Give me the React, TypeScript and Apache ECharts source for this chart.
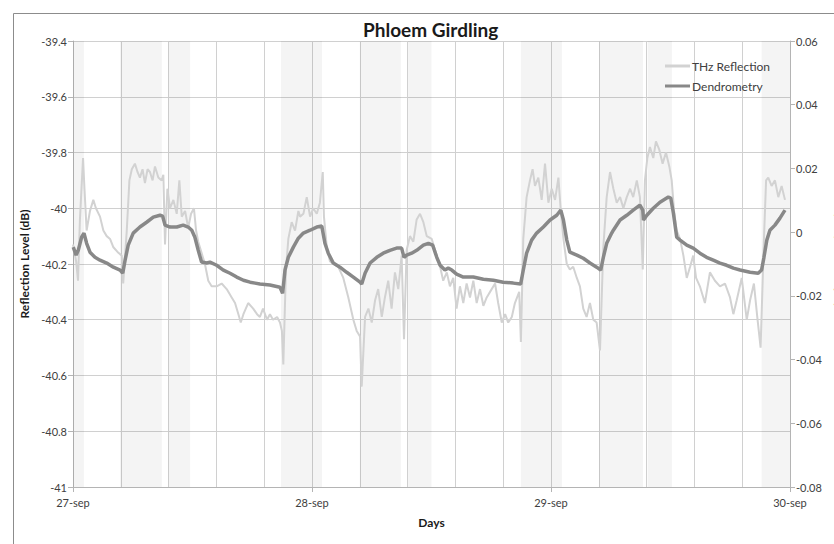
import React, { useEffect, useRef } from "react";
import * as echarts from "echarts";

const dayLabels = ["27-sep", "28-sep", "29-sep", "30-sep"];

const bandStart = [0, 0.197, 0.4, 0.87, 1.2, 1.402, 1.874, 2.201, 2.404, 2.881];
const bandEnd = [0.046, 0.372, 0.49, 1.042, 1.372, 1.5, 2.046, 2.385, 2.506, 3.0];

const thzTime = [
  0, 0.013, 0.021, 0.029, 0.042, 0.048, 0.057, 0.071, 0.085, 0.096,
  0.113, 0.127, 0.141, 0.155, 0.169, 0.190, 0.204, 0.210, 0.225, 0.236,
  0.246, 0.259, 0.270, 0.280, 0.291, 0.301, 0.312, 0.322, 0.333, 0.343,
  0.357, 0.371, 0.378, 0.385, 0.395, 0.406, 0.420, 0.434, 0.445, 0.455,
  0.469, 0.482, 0.494, 0.506, 0.515, 0.524, 0.538, 0.552, 0.566, 0.580,
  0.601, 0.622, 0.643, 0.664, 0.678, 0.692, 0.702, 0.713, 0.733, 0.754,
  0.770, 0.782, 0.795, 0.812, 0.824, 0.837, 0.854, 0.866, 0.874, 0.880,
  0.891, 0.901, 0.915, 0.929, 0.943, 0.950, 0.964, 0.978, 0.992, 1.005,
  1.020, 1.033, 1.045, 1.050, 1.062, 1.075, 1.089, 1.110, 1.131, 1.152,
  1.173, 1.187, 1.201, 1.208, 1.222, 1.236, 1.250, 1.264, 1.277, 1.292,
  1.305, 1.319, 1.333, 1.347, 1.361, 1.375, 1.385, 1.396, 1.410, 1.424,
  1.438, 1.452, 1.466, 1.480, 1.501, 1.522, 1.536, 1.549, 1.564, 1.577,
  1.591, 1.605, 1.619, 1.633, 1.647, 1.661, 1.675, 1.689, 1.703, 1.717,
  1.731, 1.745, 1.766, 1.779, 1.794, 1.808, 1.821, 1.836, 1.849, 1.867,
  1.874, 1.884, 1.898, 1.912, 1.923, 1.933, 1.947, 1.961, 1.975, 1.989,
  2.003, 2.017, 2.031, 2.041, 2.052, 2.066, 2.079, 2.093, 2.108, 2.121,
  2.135, 2.149, 2.163, 2.177, 2.191, 2.205, 2.219, 2.233, 2.247, 2.261,
  2.275, 2.289, 2.303, 2.317, 2.331, 2.344, 2.359, 2.372, 2.384, 2.393,
  2.403, 2.414, 2.428, 2.439, 2.453, 2.467, 2.481, 2.495, 2.505, 2.515,
  2.526, 2.540, 2.554, 2.568, 2.582, 2.595, 2.607, 2.623, 2.644, 2.665,
  2.686, 2.707, 2.728, 2.749, 2.763, 2.777, 2.798, 2.819, 2.833, 2.849,
  2.863, 2.877, 2.891, 2.900, 2.909, 2.923, 2.937, 2.951, 2.965, 2.979,
];

const thzValue = [
  -40.13, -40.19, -40.26, -40.04, -39.82, -39.93, -40.08, -40.01, -39.97, -40.0,
  -40.03, -40.08, -40.1, -40.11, -40.14, -40.16, -40.17, -40.27, -40.08, -39.9,
  -39.86, -39.84, -39.87, -39.89, -39.86, -39.91, -39.86, -39.87, -39.9, -39.85,
  -39.89, -39.9, -39.88, -40.13, -39.93, -40.0, -39.97, -40.02, -39.9, -40.03,
  -40.01, -40.07, -40.02, -40.0, -40.08, -40.12, -40.16, -40.2, -40.26, -40.28,
  -40.28, -40.27, -40.29, -40.32, -40.34, -40.38, -40.41, -40.38, -40.34, -40.36,
  -40.38, -40.39, -40.36, -40.4, -40.38, -40.4, -40.39, -40.41, -40.44, -40.56,
  -40.22, -40.11, -40.05, -40.08, -40.01, -40.03, -40.02, -39.96, -40.03, -40.0,
  -40.02, -39.98, -39.87, -40.03, -40.14, -40.19, -40.2, -40.21, -40.25, -40.32,
  -40.4, -40.44, -40.46, -40.64, -40.39, -40.36, -40.41, -40.33, -40.29, -40.39,
  -40.32, -40.26, -40.36, -40.23, -40.29, -40.17, -40.47, -40.15, -40.1, -40.12,
  -40.04, -40.02, -40.05, -40.1, -40.11, -40.17, -40.21, -40.26, -40.23, -40.28,
  -40.25, -40.36, -40.28, -40.34, -40.27, -40.32, -40.26, -40.34, -40.29, -40.35,
  -40.32, -40.3, -40.27, -40.34, -40.41, -40.38, -40.41, -40.39, -40.34, -40.3,
  -40.48, -40.11, -39.96, -39.9, -39.86, -39.92, -39.89, -39.97, -39.84, -39.98,
  -39.93, -39.97, -39.89, -40.01, -40.11, -40.2, -40.22, -40.21, -40.25, -40.28,
  -40.36, -40.39, -40.34, -40.4, -40.41, -40.51, -40.14, -39.96, -39.87, -39.93,
  -39.98, -39.96, -40.0, -39.96, -39.93, -39.96, -39.9, -39.96, -40.22, -39.9,
  -39.82, -39.78, -39.82, -39.76, -39.79, -39.84, -39.8, -39.85, -39.9, -40.01,
  -40.08, -40.11, -40.17, -40.25, -40.21, -40.17, -40.25, -40.28, -40.34, -40.23,
  -40.26, -40.28, -40.27, -40.32, -40.38, -40.33, -40.25, -40.4, -40.33, -40.27,
  -40.39, -40.5, -40.11, -39.9, -39.89, -39.92, -39.9, -39.96, -39.92, -39.97,
];

const dendroTime = [
  0.001, 0.013, 0.022, 0.036, 0.046, 0.057, 0.071, 0.092, 0.113, 0.141,
  0.169, 0.197, 0.208, 0.218, 0.231, 0.252, 0.280, 0.308, 0.336, 0.364,
  0.375, 0.385, 0.406, 0.434, 0.461, 0.482, 0.497, 0.510, 0.524, 0.538,
  0.559, 0.573, 0.601, 0.629, 0.657, 0.685, 0.713, 0.741, 0.762, 0.782,
  0.824, 0.866, 0.877, 0.887, 0.901, 0.922, 0.943, 0.964, 0.992, 1.020,
  1.041, 1.054, 1.068, 1.089, 1.117, 1.145, 1.173, 1.201, 1.208, 1.222,
  1.243, 1.271, 1.298, 1.326, 1.354, 1.375, 1.385, 1.396, 1.417, 1.438,
  1.466, 1.487, 1.505, 1.522, 1.536, 1.556, 1.570, 1.585, 1.605, 1.633,
  1.675, 1.717, 1.759, 1.800, 1.842, 1.873, 1.884, 1.898, 1.919, 1.940,
  1.968, 1.996, 2.024, 2.041, 2.052, 2.066, 2.079, 2.108, 2.135, 2.163,
  2.191, 2.208, 2.219, 2.233, 2.254, 2.261, 2.289, 2.317, 2.344, 2.372,
  2.384, 2.387, 2.401, 2.428, 2.456, 2.491, 2.501, 2.512, 2.526, 2.540,
  2.568, 2.595, 2.623, 2.651, 2.679, 2.707, 2.735, 2.763, 2.791, 2.833,
  2.867, 2.881, 2.891, 2.903, 2.916, 2.937, 2.958, 2.979,
];

const dendroValue = [
  -0.0047, -0.0072, -0.0057, -0.0016, -0.0003, -0.0035, -0.0063, -0.0079, -0.0088, -0.0097,
  -0.011, -0.0119, -0.0129, -0.0088, -0.0041, -0.0003, 0.0016, 0.0031, 0.0047, 0.0053,
  0.005, 0.0022, 0.0016, 0.0016, 0.0022, 0.0016, 0.0006, -0.0016, -0.0057, -0.0094,
  -0.0097, -0.0094, -0.0104, -0.0119, -0.0129, -0.0141, -0.0151, -0.0157, -0.016, -0.0163,
  -0.0166, -0.0173, -0.0192, -0.0119, -0.0079, -0.0047, -0.0019, -0.0003, 0.0006, 0.0016,
  0.0019, -0.0035, -0.0066, -0.0097, -0.011, -0.0126, -0.0141, -0.0157, -0.0163, -0.0129,
  -0.0097, -0.0079, -0.0066, -0.0057, -0.005, -0.005, -0.0079, -0.0072, -0.0066, -0.0057,
  -0.0041, -0.0035, -0.0041, -0.0079, -0.0104, -0.0119, -0.0113, -0.0119, -0.0132, -0.0141,
  -0.0141, -0.0148, -0.0151, -0.0157, -0.016, -0.0163, -0.0119, -0.0066, -0.0025, -0.0003,
  0.0016, 0.0038, 0.0053, 0.0069, 0.0038, -0.0025, -0.0063, -0.0072, -0.0082, -0.0097,
  -0.011, -0.0119, -0.0079, -0.0035, -0.0003, 0.0006, 0.0038, 0.0053, 0.0069, 0.0085,
  0.0069, 0.0038, 0.0053, 0.0075, 0.0094, 0.011, 0.0107, 0.006, -0.0016, -0.0025,
  -0.0041, -0.005, -0.0066, -0.0079, -0.0088, -0.0097, -0.0104, -0.0113, -0.0119, -0.0126,
  -0.0129, -0.0119, -0.0079, -0.0025, 0.0006, 0.0022, 0.0044, 0.0069,
];

const FONT = "Lato, 'Open Sans', sans-serif";
const GRID = "#d0d0d0";
const AXIS = "#b4b4b4";
const LABEL = "#404040";

export default function App() {
  const ref = useRef<HTMLDivElement>(null);

  useEffect(() => {
    document.body.style.margin = "0";
    if (!ref.current) return;
    const chart = echarts.init(ref.current, null, { renderer: "svg" });

    const thzData = thzTime.map((t, i) => [t, thzValue[i]]);
    const dendroData = dendroTime.map((t, i) => [t, dendroValue[i]]);
    const bands = bandStart.map((s, i) => [{ xAxis: s }, { xAxis: bandEnd[i] }]);

    chart.setOption({
      animation: false,
      backgroundColor: "#ffffff",
      textStyle: { fontFamily: FONT },
      title: {
        text: "Phloem Girdling",
        left: 358,
        top: 15,
        textStyle: { fontFamily: FONT, fontWeight: "bold", fontSize: 19, color: "#1a1a1a" },
      },
      graphic: [
        {
          type: "rect",
          shape: { x: 13.5, y: 13.5, width: 900, height: 700 },
          style: { fill: "none", stroke: "#8c8c8c", lineWidth: 1 },
          silent: true,
        },
      ],
      legend: {
        orient: "vertical",
        left: 660,
        top: 55,
        icon: "rect",
        itemWidth: 25,
        itemHeight: 3,
        itemGap: 8,
        textStyle: { fontFamily: FONT, fontSize: 12, color: LABEL, padding: [0, 0, 0, -3] },
        data: ["THz Reflection", "Dendrometry"],
      },
      grid: { left: 73, right: 44, top: 41, bottom: 57, outerBoundsMode: "none", containLabel: false },
      xAxis: {
        type: "value",
        min: 0,
        max: 3,
        interval: 1,
        name: "Days",
        nameLocation: "middle",
        nameGap: 29,
        nameTextStyle: { fontFamily: FONT, fontWeight: "bold", fontSize: 12, color: "#1a1a1a" },
        axisLine: { show: true, onZero: false, lineStyle: { color: AXIS } },
        axisTick: { show: true, length: 5, lineStyle: { color: AXIS } },
        axisLabel: {
          fontFamily: FONT,
          fontSize: 11,
          color: LABEL,
          margin: 10,
          formatter: (v: number) => dayLabels[Math.round(v)] ?? "",
        },
        splitLine: { show: true, lineStyle: { color: GRID } },
        minorTick: { show: false, splitNumber: 5 },
        minorSplitLine: { show: true, lineStyle: { color: GRID } },
      },
      yAxis: [
        {
          type: "value",
          min: -41,
          max: -39.4,
          interval: 0.2,
          position: "left",
          name: "Reflection Level (dB)",
          nameLocation: "middle",
          nameGap: 40,
          nameTextStyle: { fontFamily: FONT, fontWeight: "bold", fontSize: 12, color: "#1a1a1a" },
          axisLine: { show: true, lineStyle: { color: AXIS } },
          axisTick: { show: true, length: 5, lineStyle: { color: AXIS } },
          axisLabel: { fontFamily: FONT, fontSize: 11, color: LABEL, margin: 6 },
          splitLine: { show: true, lineStyle: { color: GRID } },
        },
        {
          type: "value",
          min: -0.08,
          max: 0.06,
          interval: 0.02,
          position: "right",
          name: "Displacement (mm)",
          nameLocation: "middle",
          nameGap: 35,
          nameRotate: 90,
          nameTextStyle: { fontFamily: FONT, fontWeight: "bold", fontSize: 12, color: "#1a1a1a" },
          axisLine: { show: true, lineStyle: { color: AXIS } },
          axisTick: { show: true, length: 5, lineStyle: { color: AXIS } },
          axisLabel: { fontFamily: FONT, fontSize: 11, color: LABEL, margin: 6 },
          splitLine: { show: false },
        },
      ],
      series: [
        {
          name: "THz Reflection",
          type: "line",
          yAxisIndex: 0,
          data: thzData,
          symbol: "none",
          lineStyle: { color: "#d2d2d2", width: 2 },
          itemStyle: { color: "#d2d2d2" },
          markArea: {
            silent: true,
            itemStyle: { color: "rgba(0,0,0,0.045)" },
            data: bands,
          },
        },
        {
          name: "Dendrometry",
          type: "line",
          yAxisIndex: 1,
          data: dendroData,
          symbol: "none",
          lineStyle: { color: "#888888", width: 3.5 },
          itemStyle: { color: "#888888" },
        },
      ],
    });

    return () => chart.dispose();
  }, []);

  return (
    <div
      ref={ref}
      style={{ position: "absolute", left: 0, top: 0, width: 834, height: 544 }}
    />
  );
}
